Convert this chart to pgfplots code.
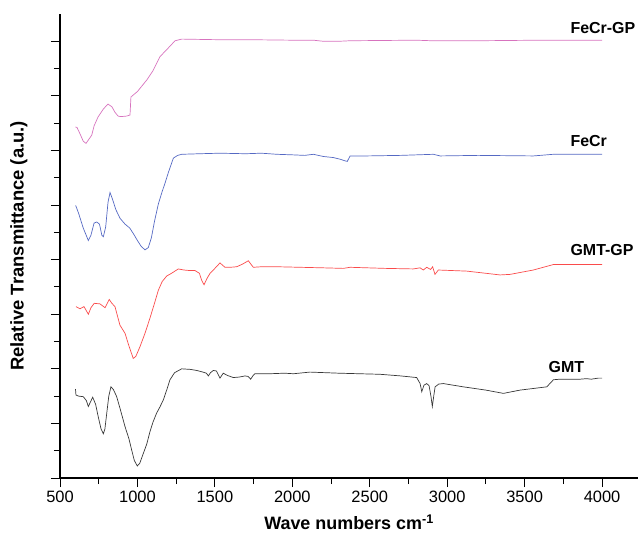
\documentclass[border=0pt]{standalone}
\usepackage{fontspec}
\setmainfont{Liberation Sans}
\usepackage{pgfplots}
\pgfplotsset{compat=1.18}

\definecolor{gmtblack}{RGB}{55,55,55}
\definecolor{gmtgpred}{RGB}{250,75,75}
\definecolor{fecrblue}{RGB}{85,105,195}
\definecolor{fecrgppink}{RGB}{215,115,190}

\begin{document}
\begin{tikzpicture}
  \begin{axis}[
    at={(0,0)}, anchor=south west,
    scale only axis,
    width=578bp, height=464bp,
    xmin=500, xmax=4232,
    ymin=0, ymax=8.5,
    axis x line=bottom, axis y line=left,
    axis line style={-, line width=1.2pt, black},
    xtick={500,1000,...,4000},
    minor x tick num=1,
    ytick={0,1,...,8},
    minor y tick num=1,
    yticklabels={},
    tick align=outside,
    major tick length=9bp, minor tick length=6bp,
    tick style={line width=1pt, black},
    /pgf/number format/assume math mode=true,
    /pgf/number format/set thousands separator={},
    tick label style={font=\fontsize{16.5}{19}\selectfont},
    xlabel={\textbf{Wave numbers cm\textsuperscript{-1}}},
    ylabel={\textbf{Relative Transmittance (a.u.)}},
    xlabel style={font=\fontsize{18}{21}\selectfont, at={(axis description cs:0.5,0)}, anchor=center, yshift=-44bp},
    ylabel style={font=\fontsize{18.5}{21}\selectfont, at={(axis description cs:-0.071,0.5)}, anchor=center},
    clip=false,
  ]
  % GMT
  \addplot[gmtblack, line width=0.7pt] coordinates {
    (600,1.63) (603,1.52) (620,1.50) (650,1.49) (670,1.42) (683,1.31) (711,1.48) (730,1.35)
    (747,1.12) (765,0.90) (780,0.81) (790,0.90) (802,1.19) (815,1.50) (829,1.67) (845,1.62)
    (866,1.49) (890,1.25) (920,0.94) (945,0.72) (963,0.51) (980,0.32) (999,0.22) (1015,0.27)
    (1038,0.45) (1060,0.62) (1081,0.85) (1100,1.02) (1124,1.19) (1145,1.30) (1167,1.43)
    (1190,1.62) (1210,1.80) (1240,1.93) (1286,2.00) (1340,1.99) (1383,1.97) (1423,1.94)
    (1445,1.92) (1458,1.87) (1472,1.93) (1490,1.97) (1510,1.96) (1533,1.83) (1554,1.92)
    (1580,1.88) (1619,1.84) (1660,1.85) (1695,1.87) (1715,1.86) (1731,1.81) (1745,1.87)
    (1759,1.91) (1856,1.91) (1950,1.92) (2007,1.91) (2114,1.94) (2300,1.92) (2566,1.90)
    (2700,1.87) (2803,1.84) (2825,1.73) (2836,1.58) (2850,1.70) (2868,1.73) (2883,1.69)
    (2895,1.50) (2904,1.31) (2913,1.50) (2922,1.67) (2945,1.72) (2975,1.73) (3104,1.67)
    (3250,1.61) (3363,1.55) (3470,1.61) (3643,1.67) (3686,1.80) (3729,1.81) (3858,1.81)
    (3900,1.82) (3930,1.81) (3976,1.83) (4000,1.83)
  };
  % GMT-GP
  \addplot[gmtgpred, line width=0.7pt] coordinates {
    (603,3.14) (629,3.10) (655,3.14) (683,3.00) (700,3.12) (721,3.20) (758,3.19) (791,3.12)
    (805,3.20) (818,3.27) (835,3.20) (855,3.14) (870,2.98) (887,2.80) (920,2.65) (945,2.42)
    (973,2.19) (990,2.23) (1017,2.41) (1050,2.66) (1081,2.93) (1110,3.20) (1135,3.44)
    (1160,3.60) (1189,3.70) (1220,3.75) (1264,3.83) (1300,3.81) (1340,3.80) (1372,3.80)
    (1400,3.75) (1415,3.62) (1430,3.54) (1450,3.66) (1469,3.75) (1500,3.84) (1533,3.94)
    (1565,3.86) (1600,3.86) (1641,3.87) (1680,3.92) (1716,3.98) (1748,3.86) (1800,3.87)
    (1900,3.87) (2050,3.86) (2200,3.85) (2329,3.84) (2373,3.86) (2600,3.84) (2781,3.83)
    (2825,3.85) (2846,3.81) (2868,3.86) (2893,3.82) (2906,3.87) (2921,3.73) (2943,3.81)
    (3126,3.79) (3250,3.75) (3341,3.72) (3406,3.73) (3556,3.81) (3685,3.91) (3800,3.91)
    (4000,3.91)
  };
  % FeCr
  \addplot[fecrblue, line width=0.7pt] coordinates {
    (600,4.99) (603,4.98) (620,4.85) (650,4.58) (683,4.35) (700,4.45) (720,4.67) (737,4.69)
    (755,4.65) (770,4.45) (780,4.42) (795,4.60) (810,5.05) (823,5.23) (840,5.10) (860,4.92)
    (887,4.76) (920,4.65) (950,4.58) (973,4.48) (1000,4.35) (1025,4.24) (1049,4.18)
    (1070,4.22) (1090,4.40) (1110,4.70) (1135,5.02) (1160,5.25) (1178,5.40) (1200,5.60)
    (1232,5.86) (1260,5.91) (1286,5.93) (1400,5.94) (1533,5.95) (1700,5.94) (1800,5.95)
    (1900,5.93) (2000,5.92) (2080,5.91) (2136,5.93) (2200,5.89) (2265,5.87) (2308,5.84)
    (2340,5.81) (2355,5.80) (2373,5.90) (2480,5.90) (2700,5.91) (2911,5.93) (2954,5.90)
    (3200,5.91) (3556,5.90) (3600,5.91) (3685,5.93) (3976,5.93) (4000,5.93)
  };
  % FeCr-GP
  \addplot[fecrgppink, line width=0.7pt] coordinates {
    (600,6.43) (610,6.42) (630,6.30) (650,6.17) (668,6.13) (690,6.22) (705,6.28) (720,6.45)
    (745,6.61) (780,6.76) (810,6.85) (835,6.80) (855,6.70) (875,6.63) (892,6.62) (930,6.63)
    (952,6.65) (958,6.98) (1000,7.08) (1060,7.29) (1100,7.46) (1146,7.72) (1200,7.88)
    (1243,8.01) (1286,8.04) (1500,8.03) (1700,8.03) (2000,8.02) (2136,8.02) (2200,8.00)
    (2300,8.00) (2373,8.01) (2800,8.02) (2900,8.01) (3200,8.01) (3600,8.02) (4000,8.02)
  };
  \node[anchor=west, font=\bfseries\fontsize{16}{19}\selectfont] at (axis cs:3774,8.24) {FeCr-GP};
  \node[anchor=west, font=\bfseries\fontsize{16}{19}\selectfont] at (axis cs:3774,6.18) {FeCr};
  \node[anchor=west, font=\bfseries\fontsize{16}{19}\selectfont] at (axis cs:3774,4.18) {GMT-GP};
  \node[anchor=west, font=\bfseries\fontsize{16}{19}\selectfont] at (axis cs:3632,2.04) {GMT};
  \end{axis}
  \pgfresetboundingbox
  \path[use as bounding box] (-60bp,-59bp) rectangle (578bp,478bp);
\end{tikzpicture}
\end{document}
